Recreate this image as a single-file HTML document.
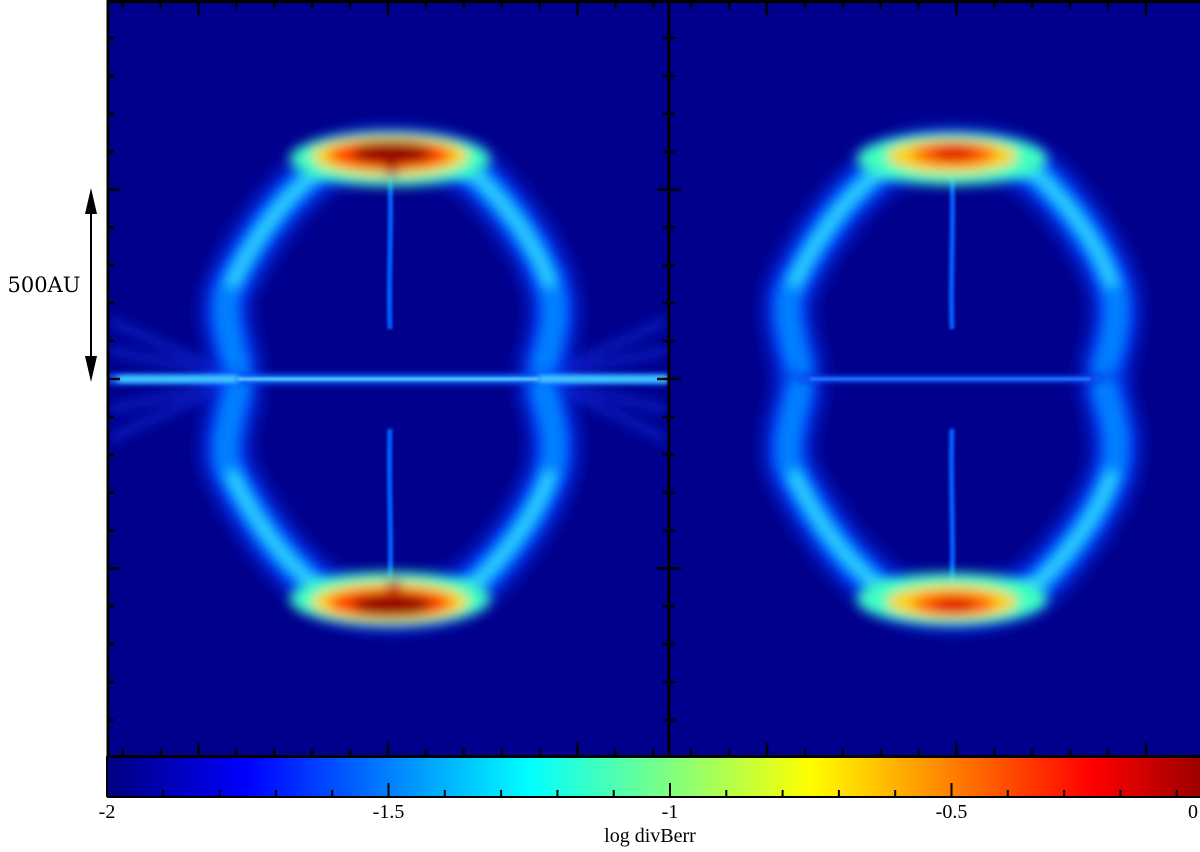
<!DOCTYPE html>
<html><head><meta charset="utf-8"><style>
html,body{margin:0;padding:0;background:#fff;width:1200px;height:852px;overflow:hidden}
svg{display:block}
text{font-family:"Liberation Serif",serif}
</style></head><body>
<svg id="root" width="1200" height="852" viewBox="0 0 1200 852">
<defs>
<filter id="b6" filterUnits="userSpaceOnUse" x="-400" y="-400" width="2000" height="2000"><feGaussianBlur stdDeviation="6"/></filter>
<filter id="b8" filterUnits="userSpaceOnUse" x="-400" y="-400" width="2000" height="2000"><feGaussianBlur stdDeviation="9"/></filter>
<filter id="b3" filterUnits="userSpaceOnUse" x="-400" y="-400" width="2000" height="2000"><feGaussianBlur stdDeviation="3"/></filter>
<filter id="b1" filterUnits="userSpaceOnUse" x="-400" y="-400" width="2000" height="2000"><feGaussianBlur stdDeviation="1.2"/></filter>
<linearGradient id="jet" x1="107" x2="1233" y1="0" y2="0" gradientUnits="userSpaceOnUse">
<stop offset="0" stop-color="#00007f"/><stop offset="0.125" stop-color="#0000ff"/>
<stop offset="0.375" stop-color="#00ffff"/><stop offset="0.625" stop-color="#ffff00"/>
<stop offset="0.875" stop-color="#ff0000"/><stop offset="1" stop-color="#7f0000"/>
</linearGradient>
<clipPath id="clipL"><rect x="108" y="2" width="560" height="753"/></clipPath>
<clipPath id="clipR"><rect x="670" y="2" width="530" height="753"/></clipPath>
<g id="shellHalf">
<path d="M-148,0 C-158,-40 -168,-70 -158,-92 C-140,-130 -112,-172 -82,-198 C-50,-236 52,-236 92,-200 C122,-170 150,-132 163,-92 C172,-60 160,-30 152,0" fill="none" stroke="#0030f0" stroke-width="46" filter="url(#b8)"/>
<path d="M-148,0 C-158,-40 -168,-70 -158,-92 C-140,-130 -112,-172 -82,-198 C-50,-236 52,-236 92,-200 C122,-170 150,-132 163,-92 C172,-60 160,-30 152,0" fill="none" stroke="#0080ff" stroke-width="26" filter="url(#b6)"/>
<path d="M-158,-92 C-140,-130 -112,-172 -82,-198 C-50,-236 52,-236 92,-200 C122,-170 150,-132 163,-92" fill="none" stroke="#40e8ff" stroke-width="12" filter="url(#b6)" opacity="0.85"/>
<path d="M2,-50 C0,-100 4,-150 2,-205" stroke="#0060ff" stroke-width="5" fill="none" filter="url(#b1)"/>
</g>
</defs>

<!-- LEFT PANEL -->
<g clip-path="url(#clipL)">
<rect x="108" y="2" width="560" height="753" fill="#00008c"/>
<g filter="url(#b6)" stroke="#0a28d0" stroke-width="10" fill="none" opacity="0.7">
<path d="M240,379 L108,320"/><path d="M240,379 L108,350"/><path d="M240,379 L108,410"/><path d="M240,379 L108,440"/>
<path d="M540,379 L668,320"/><path d="M540,379 L668,350"/><path d="M540,379 L668,410"/><path d="M540,379 L668,440"/>
</g>
<g transform="translate(388,379)">
<use href="#shellHalf"/>
<use href="#shellHalf" transform="scale(1,-1)"/>
<g filter="url(#b6)">
<ellipse cx="2" cy="-220" rx="100" ry="27" fill="#40ffc0"/>
<ellipse cx="2" cy="-223" rx="78" ry="20" fill="#ffd000"/>
<ellipse cx="2" cy="-224" rx="62" ry="15" fill="#ff4000"/>
<ellipse cx="4" cy="-226" rx="40" ry="11" fill="#900000"/>
<ellipse cx="4" cy="-208" rx="6" ry="7" fill="#b00000"/>
</g>
<g filter="url(#b6)">
<ellipse cx="2" cy="220" rx="100" ry="27" fill="#40ffc0"/>
<ellipse cx="2" cy="223" rx="78" ry="20" fill="#ffd000"/>
<ellipse cx="2" cy="224" rx="62" ry="15" fill="#ff4000"/>
<ellipse cx="4" cy="226" rx="40" ry="11" fill="#900000"/>
<ellipse cx="6" cy="206" rx="6" ry="7" fill="#b00000"/>
</g>
<g>
<rect x="-280" y="-5" width="560" height="10" fill="#1060ff" filter="url(#b3)"/>
<rect x="-270" y="-3" width="120" height="6" fill="#50e8ff" filter="url(#b3)"/>
<rect x="150" y="-3" width="130" height="6" fill="#50e8ff" filter="url(#b3)"/>
<rect x="-150" y="-1.5" width="300" height="3" fill="#60e0ff" filter="url(#b1)"/>
</g>
</g>
</g>

<!-- RIGHT PANEL -->
<g clip-path="url(#clipR)">
<rect x="670" y="2" width="530" height="753" fill="#00008c"/>
<g transform="translate(950,379)">
<use href="#shellHalf"/>
<use href="#shellHalf" transform="scale(1,-1)"/>
<g filter="url(#b6)">
<ellipse cx="2" cy="-220" rx="95" ry="26" fill="#40ffc0"/>
<ellipse cx="2" cy="-223" rx="65" ry="17" fill="#ffd000"/>
<ellipse cx="4" cy="-225" rx="42" ry="12" fill="#ff6000"/>
<ellipse cx="4" cy="-226" rx="22" ry="8" fill="#e01000"/>
</g>
<g filter="url(#b6)">
<ellipse cx="2" cy="220" rx="95" ry="26" fill="#40ffc0"/>
<ellipse cx="2" cy="223" rx="65" ry="17" fill="#ffd000"/>
<ellipse cx="4" cy="225" rx="42" ry="12" fill="#ff6000"/>
<ellipse cx="4" cy="226" rx="22" ry="8" fill="#e01000"/>
</g>
<g>
<rect x="-150" y="-3" width="300" height="6" fill="#0a50ff" filter="url(#b3)"/>
<rect x="-140" y="-1" width="280" height="2" fill="#3090ff" filter="url(#b1)"/>
</g>
</g>
</g>

<g id="frames" stroke="#000" fill="none">
<rect x="108" y="1.5" width="1100" height="755" stroke-width="3"/>
<line x1="669" y1="0" x2="669" y2="756" stroke-width="3"/>
</g>
<g id="ticks" stroke="#000" stroke-width="2.5"></g>

<g>
<line x1="91" y1="200" x2="91" y2="362" stroke="#000" stroke-width="2"/>
<polygon points="91,188 85,214 97,214" fill="#000"/>
<polygon points="91,382 85,356 97,356" fill="#000"/>
<text x="44" y="292" font-size="21" text-anchor="middle" style="font-family:'DejaVu Serif',serif">500AU</text>
</g>

<g>
<rect x="107" y="758" width="1126" height="39" fill="url(#jet)"/>
<line x1="107" y1="797" x2="1200" y2="797" stroke="#000" stroke-width="2"/>
<line x1="107" y1="756" x2="107" y2="797" stroke="#000" stroke-width="2"/>
<g id="cbticks" stroke="#000" stroke-width="2"></g>
<g id="cblabels" font-size="20"></g>
<text x="650" y="842" font-size="20" text-anchor="middle">log divBerr</text>
</g>
</svg>
<script>
var cbTickValues = [-2, -1.5, -1, -0.5, 0];
var cbTickLabels = ["-2", "-1.5", "-1", "-0.5", "0"];
var cbMin = -2, cbMax = 0;
var NS = "http://www.w3.org/2000/svg";
function cbX(v){ return 107 + (v - cbMin) / (cbMax - cbMin) * 1126; }
var ct = document.getElementById('cbticks');
for (var v = -19; v <= 0; v++) {
  var val = v / 10, x = cbX(val);
  if (x > 1199) continue;
  var major = (v % 5 === 0);
  var l = document.createElementNS(NS, 'line');
  
  
  l.setAttribute('x1', x); l.setAttribute('x2', x);
  l.setAttribute('y1', 797); l.setAttribute('y2', major ? 783 : 790);
  ct.appendChild(l);
}
var cl = document.getElementById('cblabels');
cbTickValues.forEach(function(val, i){
  var t = document.createElementNS(NS, 'text');
  
  
  var x = cbX(val), anchor = 'middle';
  if (x > 1190) { x = 1198; anchor = 'end'; }
  t.setAttribute('x', x); t.setAttribute('y', 818);
  t.setAttribute('text-anchor', anchor);
  t.textContent = cbTickLabels[i];
  cl.appendChild(t);
});
var tk = document.getElementById('ticks');
function tick(x1,y1,x2,y2){
  var l = document.createElementNS(NS, 'line');
  
  
  l.setAttribute('x1',x1); l.setAttribute('y1',y1); l.setAttribute('x2',x2); l.setAttribute('y2',y2);
  tk.appendChild(l);
}
for (var k = -10; k <= 10; k++) {
  var y = 379 + k * 37.9, len = (k % 5 === 0) ? 12 : 6;
  if (y < 5 || y > 752) continue;
  tick(108, y, 108 + len, y); tick(669, y, 669 - len, y); tick(669, y, 669 + len, y);
}
for (var k = -10; k <= 20; k++) {
  var x = 388 + k * 37.9, len = (k % 5 === 0) ? 12 : 6;
  if (x < 112 || x > 1198 || Math.abs(x - 669) < 4) continue;
  tick(x, 3, x, 3 + len); tick(x, 755, x, 755 - len);
}
</script>
</body></html>
